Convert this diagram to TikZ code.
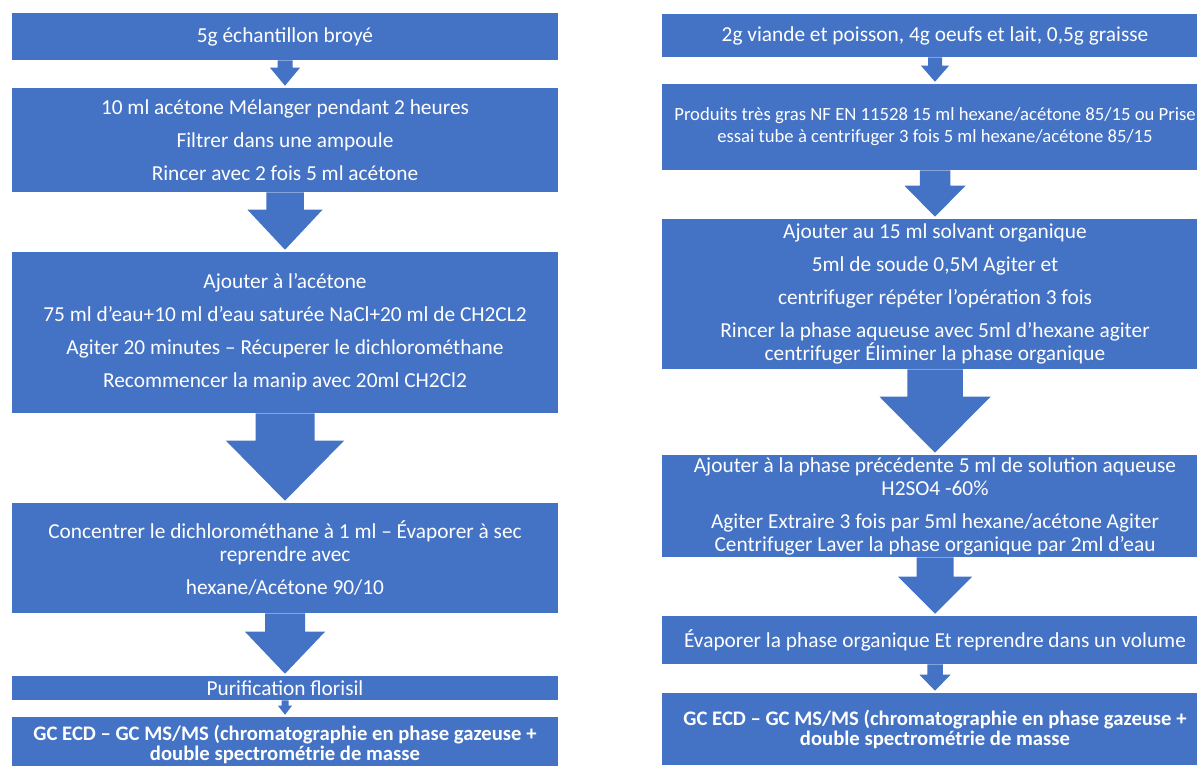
\documentclass[tikz,border=0pt]{standalone}
\usepackage{fontspec}
\setmainfont{Carlito}
\usetikzlibrary{calc}
\definecolor{boxblue}{HTML}{4472C4}
\newdimen\px \px=0.75pt
% flèche bloc : #1 source, #2 cible, #3 largeur de tête, #4 longueur de tête
\newcommand{\flowarrow}[4]{%
  \fill[boxblue] ($(#1.south)+(-#3/4,0)$) -- ($(#2.north)+(-#3/4,-#4-2)$) -- ($(#2.north)+(-#3/2,-#4-2)$)
    -- ($(#2.north)+(0,-2)$) -- ($(#2.north)+(#3/2,-#4-2)$) -- ($(#2.north)+(#3/4,-#4-2)$)
    -- ($(#1.south)+(#3/4,0)$) -- cycle;}
\tikzset{
  stepbox/.style={fill=boxblue, text=white, minimum width=546\px, inner sep=0pt, align=center,
    font=\fontsize{16}{17.25}\selectfont},
  smallbox/.style={stepbox, font=\fontsize{14}{16.5}\selectfont},
  resultbox/.style={stepbox, font=\bfseries\fontsize{15.5}{15}\selectfont},
}
\begin{document}
\begin{tikzpicture}[x=0.75pt,y=-0.75pt]
\fill[white] (0,0) rectangle (1197,765);
\useasboundingbox (0,0) rectangle (1197,765);
% colonne gauche
\node[stepbox, minimum height=47\px] (l1) at (285,36.5) {5g échantillon broyé};
\node[stepbox, minimum height=104\px] (l2) at (285,140) {10 ml acétone Mélanger pendant 2 heures\\[7.5pt]Filtrer dans une ampoule\\[7.5pt]Rincer avec 2 fois 5 ml acétone};
\node[stepbox, minimum height=161\px] (l3) at (285,332.5) {Ajouter à l’acétone\\[7.5pt]75 ml d’eau+10 ml d’eau saturée NaCl+20 ml de CH2CL2\\[7.5pt]Agiter 20 minutes – Récuperer le dichlorométhane\\[7.5pt]Recommencer la manip avec 20ml CH2Cl2};
\node[stepbox, minimum height=110\px] (l4) at (285,558) {Concentrer le dichlorométhane à 1 ml – Évaporer à sec\\reprendre avec\\[7.5pt]hexane/Acétone 90/10};
\node[stepbox, minimum height=24\px] (l5) at (285,688) {Purification florisil};
\node[resultbox, minimum height=54\px] (l6) at (285,744) {GC ECD – GC MS/MS (chromatographie en phase gazeuse +\\double spectrométrie de masse};
\fill[boxblue] (l6.south west) rectangle ([yshift=-10\px]l6.south east);
\flowarrow{l1}{l2}{30}{18}
\flowarrow{l2}{l3}{75}{40}
\flowarrow{l3}{l4}{118}{60}
\flowarrow{l4}{l5}{80}{42}
\flowarrow{l5}{l6}{14}{9}
% colonne droite
\node[stepbox, minimum height=43\px] (r1) at (935,35.5) {2g viande et poisson, 4g oeufs et lait, 0,5g graisse};
\node[smallbox, minimum height=86\px] (r2) at (935,127) {Produits très gras NF EN 11528 15 ml hexane/acétone 85/15 ou Prise\\essai tube à centrifuger 3 fois 5 ml hexane/acétone 85/15};
\node[stepbox, minimum height=150\px] (r3) at (935,294) {Ajouter au 15 ml solvant organique\\[7.5pt]5ml de soude 0,5M Agiter et\\[7.5pt]centrifuger répéter l’opération 3 fois\\[7.5pt]Rincer la phase aqueuse avec 5ml d’hexane agiter\\centrifuger Éliminer la phase organique};
\node[stepbox, minimum height=102\px] (r4) at (935,506) {Ajouter à la phase précédente 5 ml de solution aqueuse\\H2SO4 -60\%\\[7.5pt]Agiter Extraire 3 fois par 5ml hexane/acétone Agiter\\Centrifuger Laver la phase organique par 2ml d’eau};
\node[stepbox, minimum height=48\px] (r5) at (935,640) {Évaporer la phase organique Et reprendre dans un volume};
\node[resultbox, minimum height=72\px] (r6) at (935,729) {GC ECD – GC MS/MS (chromatographie en phase gazeuse +\\double spectrométrie de masse};
\flowarrow{r1}{r2}{28}{16}
\flowarrow{r2}{r3}{61}{31}
\flowarrow{r3}{r4}{111}{56}
\flowarrow{r4}{r5}{74}{37}
\flowarrow{r5}{r6}{31}{16}
\end{tikzpicture}
\end{document}
